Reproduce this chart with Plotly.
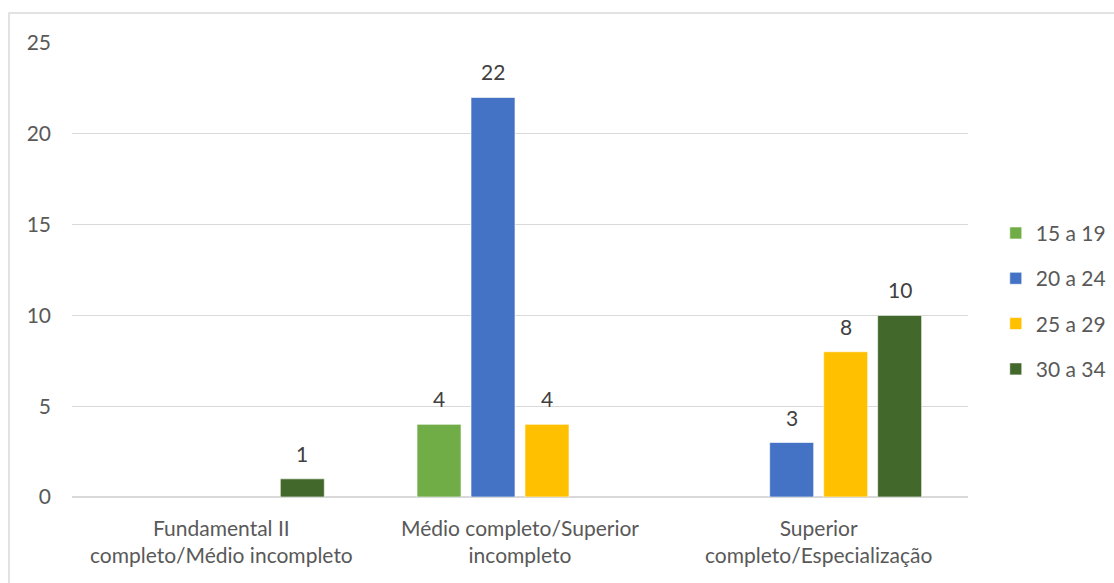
import plotly.graph_objects as go

categories = [
    "Fundamental II<br>completo/Médio incompleto",
    "Médio completo/Superior<br>incompleto",
    "Superior<br>completo/Especialização",
]
series_names = ["15 a 19", "20 a 24", "25 a 29", "30 a 34"]
values_15_19 = [None, 4, None]
values_20_24 = [None, 22, 3]
values_25_29 = [None, 4, 8]
values_30_34 = [1, None, 10]
series_values = [values_15_19, values_20_24, values_25_29, values_30_34]
colors = ["#70AD47", "#4472C4", "#FFC000", "#43682B"]

FONT = "Lato, 'Open Sans', sans-serif"
FSIZE = 21

fig = go.Figure()
for i, (name, vals, col) in enumerate(zip(series_names, series_values, colors)):
    fig.add_trace(go.Bar(
        name=name,
        x=categories,
        y=vals,
        offsetgroup=str(i),
        marker=dict(color=col, line=dict(color="rgba(255,255,255,0.6)", width=1)),
        legendgroup=name,
    ))

fig.update_layout(
    width=1114,
    height=583,
    margin=dict(l=72, r=146, t=43, b=86, autoexpand=False),
    paper_bgcolor="white",
    plot_bgcolor="white",
    barmode="group",
    bargap=0.277,
    bargroupgap=0.185,
    font=dict(family=FONT, size=FSIZE, color="#595959"),
    showlegend=True,
    legend=dict(
        x=1.031, y=0.431, xanchor="left", yanchor="middle",
        font=dict(family=FONT, size=FSIZE, color="#595959"),
        tracegroupgap=15,
        traceorder="grouped",
        itemwidth=30,
    ),
    xaxis=dict(
        showgrid=False,
        showline=False,
        ticks="",
        ticklabelstandoff=17,
        tickfont=dict(family=FONT, size=FSIZE, color="#595959"),
    ),
    yaxis=dict(
        range=[0, 25],
        dtick=5,
        showgrid=True,
        gridcolor="#D9D9D9",
        gridwidth=1,
        zeroline=True,
        zerolinecolor="#D9D9D9",
        zerolinewidth=1.5,
        showline=False,
        ticks="",
        ticklabelstandoff=20,
        tickfont=dict(family=FONT, size=FSIZE, color="#595959"),
    ),
    shapes=[dict(
        type="rect", xref="x domain", yref="y domain",
        x0=-0.0703, x1=1.2, y0=-0.25, y1=1.066,
        line=dict(color="#D9D9D9", width=1.5),
        fillcolor="rgba(0,0,0,0)",
        layer="below",
    )],
)

# value labels above each bar, placed on the bar's own category/offset
n = len(series_names)
for i, vals in enumerate(series_values):
    for c, v in enumerate(vals):
        if v is None:
            continue
        fig.add_annotation(
            x=c + (i - (n - 1) / 2) * (1 - 0.277) / n,
            xref="x", y=v, yref="y",
            text=str(v), showarrow=False,
            yanchor="bottom", yshift=11,
            font=dict(family=FONT, size=FSIZE, color="#404040"),
        )

fig.write_html("out.html")
